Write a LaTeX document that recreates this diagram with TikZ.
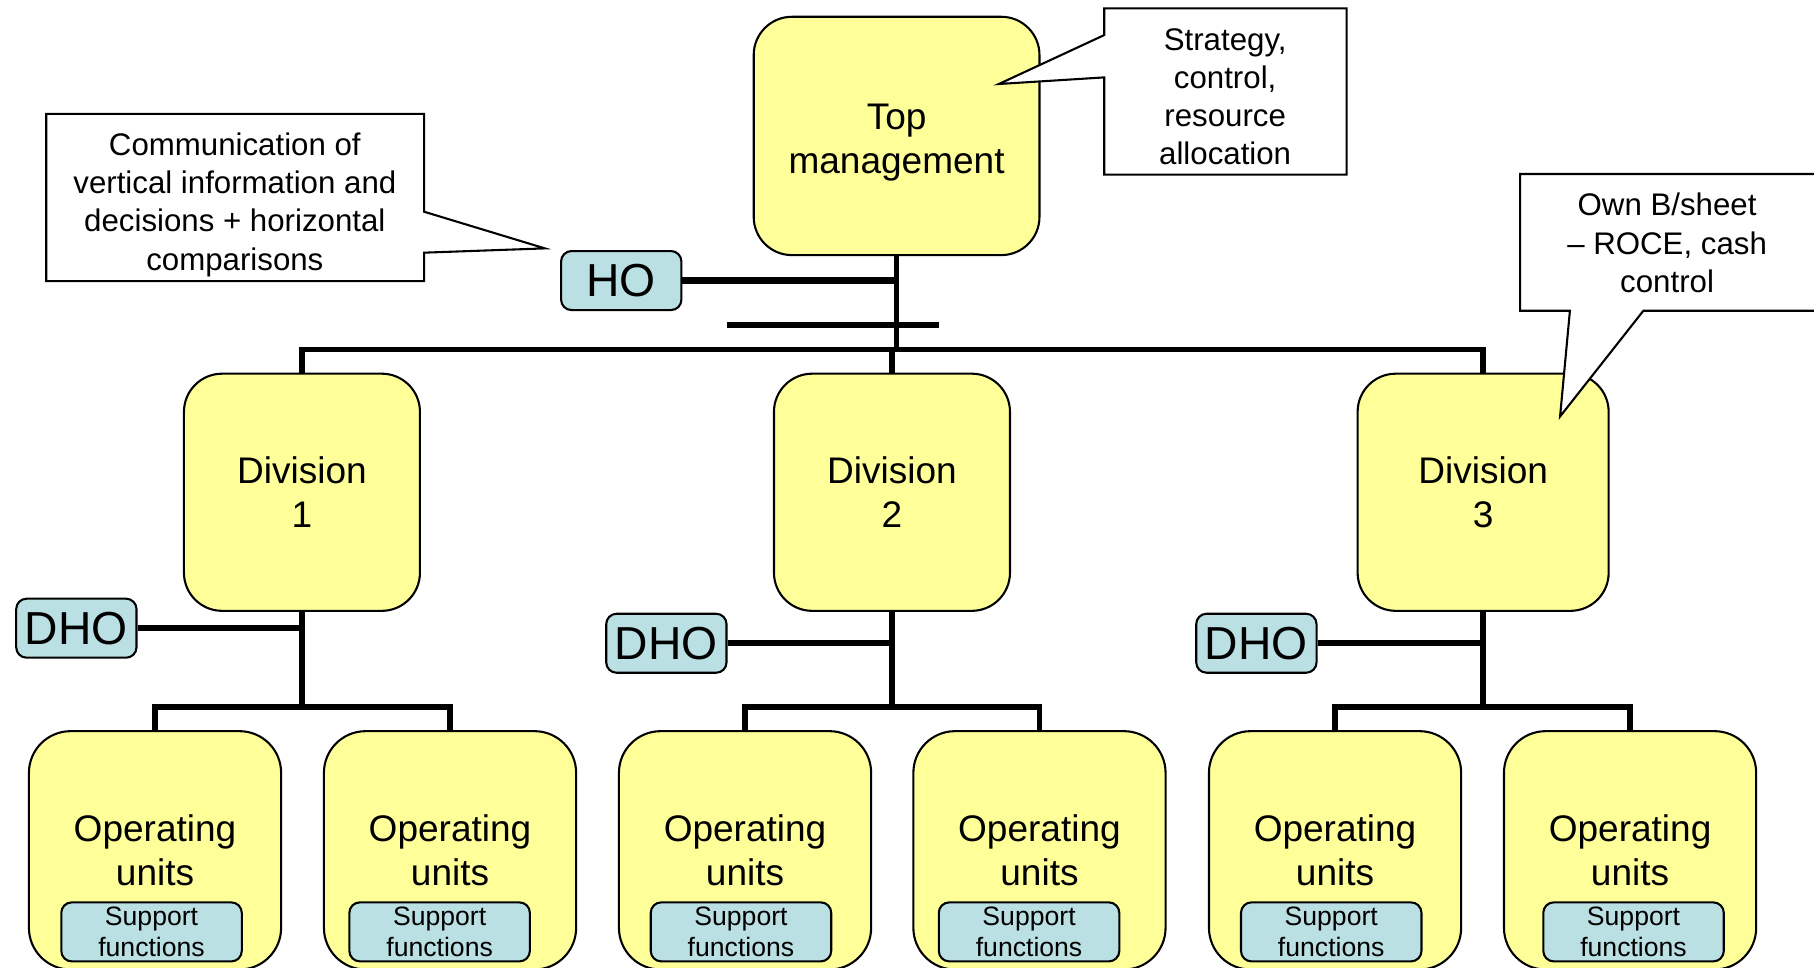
\documentclass[tikz,border=0pt]{standalone}
\usepackage{fontspec}
\setmainfont{Liberation Sans}
\usetikzlibrary{calc}
\definecolor{boxyellow}{RGB}{255,255,153}
\definecolor{boxblue}{RGB}{186,224,227}
\begin{document}
\begin{tikzpicture}[x=1pt,y=-1pt,
  unitbox/.style={draw=black, line width=1.8pt, fill=boxyellow, rounded corners=33pt,
    align=center, inner sep=0pt, font={\fontsize{32}{38}\selectfont}},
  opbox/.style={unitbox, minimum width=218pt, minimum height=206pt, rounded corners=36pt},
  supbox/.style={draw=black, line width=1.8pt, fill=boxblue, rounded corners=9pt,
    align=center, inner sep=0pt, minimum width=156pt, minimum height=51pt,
    font={\fontsize{23}{27}\selectfont}},
  hobox/.style={draw=black, line width=1.8pt, fill=boxblue, rounded corners=9pt,
    inner sep=0pt, minimum width=104pt, minimum height=51pt,
    font={\fontsize{40}{44}\selectfont}},
  conn/.style={draw=black, line width=4.8pt},
  hoconn/.style={draw=black, line width=5.6pt},
  callout/.style={draw=black, line width=1.8pt, fill=white, line join=miter},
  callouttext/.style={align=center, inner sep=0pt, font={\fontsize{27}{33}\selectfont}}
]
\useasboundingbox (0,0) rectangle (1568,836);
\clip (0,0) rectangle (1568,836);

% head office level
\node[unitbox, minimum width=247pt, minimum height=206pt] (top) at (775,117.5) {\rule{0pt}{33pt}Top\\management};
\node[hobox] (ho) at (537,242.5) {HO};

% divisions
\node[unitbox, minimum width=204pt, minimum height=205pt] (div1) at (261,425.5) {Division\\1};
\node[unitbox, minimum width=204pt, minimum height=205pt] (div2) at (771,425.5) {Division\\2};
\node[unitbox, minimum width=217pt, minimum height=205pt] (div3) at (1282,425.5) {Division\\3};

\node[hobox] (dho1) at (66,543) {DHO};
\node[hobox] (dho2) at (576,556) {DHO};
\node[hobox] (dho3) at (1086,556) {DHO};

% operating units
\node[opbox] (ou1) at (134,735) {Operating\\units};
\node[opbox] (ou2) at (389,735) {Operating\\units};
\node[opbox] (ou3) at (644,735) {Operating\\units};
\node[opbox] (ou4) at (898.5,735) {Operating\\units};
\node[opbox] (ou5) at (1154,735) {Operating\\units};
\node[opbox] (ou6) at (1409,735) {Operating\\units};

\node[supbox] (sf1) at (131,805.5) {Support\\functions};
\node[supbox] (sf2) at (380,805.5) {Support\\functions};
\node[supbox] (sf3) at (640.5,805.5) {Support\\functions};
\node[supbox] (sf4) at (889.5,805.5) {Support\\functions};
\node[supbox] (sf5) at (1150.7,805.5) {Support\\functions};
\node[supbox] (sf6) at (1412,805.5) {Support\\functions};

% main trunk and bus
\coordinate (bus) at (775,302);
\coordinate (barL) at (628.5,281);
\coordinate (barR) at (811.7,281);
\draw[hoconn] (ho.east) -- (ho.east -| top.south);
\draw[conn] (top.south) -- (bus);
\draw[conn] (barL) -- (barR);
\draw[conn] (div1.north) |- (bus) -| (div3.north);
\draw[conn] (div2.north) -- (div2.north |- bus);

% division subtrees
\foreach \d/\a/\b in {1/ou1/ou2, 2/ou3/ou4, 3/ou5/ou6}{
  \coordinate (sb\d) at ($(div\d.south)+(0,82)$);
  \draw[conn] (div\d.south) -- (sb\d);
  \draw[conn] (\a.north) |- (sb\d) -| (\b.north);
  \draw[hoconn] (dho\d.east) -- (dho\d.east -| div\d.south);
}

% callouts
\draw[callout] (40,98.5) -- (366.6,98.5) -- (366.6,183) -- (471,214.7) -- (366.6,218.4)
  -- (366.6,243) -- (40,243) -- cycle;
\node[callouttext] (c1) at (203,177) {Communication of\\vertical information and\\decisions + horizontal\\comparisons};

\draw[callout] (954.5,7.2) -- (1164,7.2) -- (1164,151) -- (954.5,151) -- (954.5,66.9)
  -- (863.4,72.6) -- (954.5,30.3) -- cycle;
\node[callouttext] (c2) at (1059,83.5) {Strategy,\\control,\\resource\\allocation};

\draw[callout] (1314,150.4) -- (1580,150.4) -- (1580,268.6) -- (1420.5,268.6)
  -- (1348.5,360) -- (1357,268.6) -- (1314,268.6) -- cycle;
\node[callouttext] (c3) at (1441,210) {Own B/sheet\\– ROCE, cash\\control};
\end{tikzpicture}
\end{document}
